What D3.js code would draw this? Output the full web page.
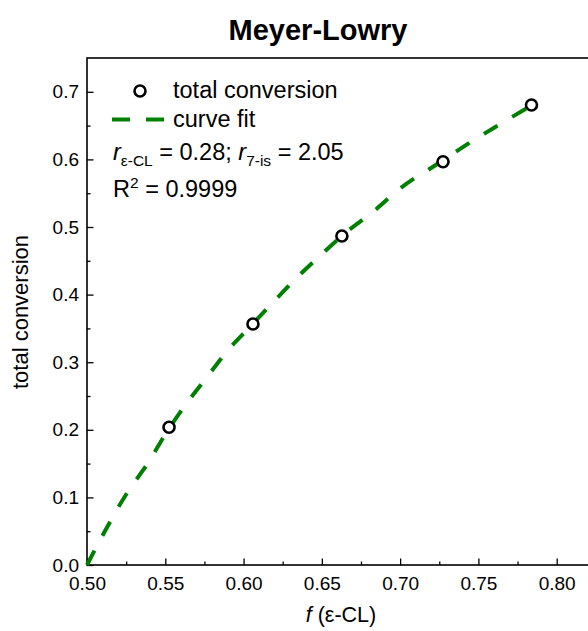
<html><head>
<script src="https://d3js.org/d3.v7.min.js"></script>
<style>
  body { margin: 0; background: #fff; }
  text { font-family: "Liberation Sans", Arial, sans-serif; fill: #000; }
  .axis .domain { stroke: none; }
  .axis line { stroke: #000; stroke-width: 1.3; }
  .axis text { font-size: 19px; }
  .fit { stroke: #008000; stroke-width: 4; fill: none; stroke-dasharray: 16,17; }
  .pt { fill: #fff; stroke: #000; stroke-width: 2.6; }
  .leg { font-size: 23.5px; }
</style>
</head>
<body>
<svg id="chart" width="588" height="631"></svg>
<script>
// measured points
let fVals = [0.5524, 0.6060, 0.6628, 0.7274, 0.7839];
let convVals = [0.2037, 0.3565, 0.4867, 0.5966, 0.6805];

// fitted curve
let fitF = [0.500, 0.510, 0.526, 0.539, 0.551, 0.563, 0.576, 0.589, 0.604, 0.619, 0.634, 0.650, 0.666, 0.683, 0.700, 0.725, 0.744, 0.763, 0.784];
let fitConv = [0.000, 0.044, 0.108, 0.151, 0.197, 0.237, 0.276, 0.315, 0.352, 0.389, 0.425, 0.460, 0.493, 0.523, 0.557, 0.595, 0.624, 0.651, 0.680];

let xTicks = [0.50, 0.55, 0.60, 0.65, 0.70, 0.75, 0.80];
let yTicks = [0.0, 0.1, 0.2, 0.3, 0.4, 0.5, 0.6, 0.7];

let svg = d3.select("#chart");
let margin = { top: 58, right: 0, bottom: 66, left: 87 };
let width = 588 - margin.left - margin.right;
let height = 631 - margin.top - margin.bottom;

let x = d3.scaleLinear().domain([0.5, 0.82]).range([0, width]);
let y = d3.scaleLinear().domain([0, 0.75]).range([height, 0]);

let g = svg.append("g").attr("transform", "translate(" + margin.left + "," + margin.top + ")");

// minor ticks
g.append("g").attr("class", "axis").attr("transform", "translate(0," + height + ")")
  .call(d3.axisBottom(x).tickValues(d3.range(0.525, 0.82, 0.05)).tickSize(-3.5).tickFormat(""));
g.append("g").attr("class", "axis")
  .call(d3.axisLeft(y).tickValues(d3.range(0.05, 0.75, 0.1)).tickSize(-3.5).tickFormat(""));

// major ticks
g.append("g").attr("class", "axis").attr("transform", "translate(0," + height + ")")
  .call(d3.axisBottom(x).tickValues(xTicks).tickSize(-6.5).tickPadding(12).tickFormat(d3.format(".2f")));
g.append("g").attr("class", "axis")
  .call(d3.axisLeft(y).tickValues(yTicks).tickSize(-6.5).tickPadding(8).tickFormat(d3.format(".1f")));

// frame
g.append("rect").attr("width", width + 2).attr("height", height)
  .attr("fill", "none").attr("stroke", "#000").attr("stroke-width", 1.6);

// fit curve
let fitData = fitF.map((f, i) => ({ f: f, c: fitConv[i] }));
let line = d3.line().x(d => x(d.f)).y(d => y(d.c)).curve(d3.curveMonotoneX);
g.append("path").datum(fitData).attr("class", "fit").attr("d", line);

// points
let pts = fVals.map((f, i) => ({ f: f, c: convVals[i] }));
g.selectAll("circle.pt").data(pts).enter().append("circle")
  .attr("class", "pt").attr("r", 5.5)
  .attr("cx", d => x(d.f)).attr("cy", d => y(d.c));

// title & axis labels
svg.append("text").attr("x", 318).attr("y", 40).attr("text-anchor", "middle")
  .style("font-size", "29px").style("font-weight", "bold").text("Meyer-Lowry");

let xt = svg.append("text").attr("x", 341).attr("y", 622).attr("text-anchor", "middle").style("font-size", "21.5px");
xt.append("tspan").style("font-style", "italic").text("f");
xt.append("tspan").text(" (\u03b5-CL)");

svg.append("text").attr("transform", "translate(28,312) rotate(-90)")
  .attr("text-anchor", "middle").style("font-size", "22px").text("total conversion");

// legend
let leg = svg.append("g");
leg.append("circle").attr("class", "pt").attr("cx", 140).attr("cy", 91).attr("r", 5.5);
leg.append("line").attr("x1", 112).attr("x2", 164).attr("y1", 119.5).attr("y2", 119.5)
  .attr("stroke", "#008000").attr("stroke-width", 4).attr("stroke-dasharray", "18,16");
leg.append("text").attr("class", "leg").attr("x", 173).attr("y", 98).text("total conversion");
leg.append("text").attr("class", "leg").attr("x", 173).attr("y", 127).text("curve fit");

let r = leg.append("text").attr("class", "leg").attr("x", 113).attr("y", 160);
r.append("tspan").style("font-style", "italic").text("r");
r.append("tspan").attr("dy", 6).style("font-size", "15.5px").text("\u03b5-CL");
r.append("tspan").attr("dy", -6).text(" = 0.28; ");
r.append("tspan").style("font-style", "italic").text("r");
r.append("tspan").attr("dy", 6).style("font-size", "15.5px").text("7-is");
r.append("tspan").attr("dy", -6).text(" = 2.05");

let r2 = leg.append("text").attr("class", "leg").attr("x", 113).attr("y", 197);
r2.append("tspan").text("R");
r2.append("tspan").attr("dy", -9).style("font-size", "15.5px").text("2");
r2.append("tspan").attr("dy", 9).text(" = 0.9999");
</script>
</body>
</html>
